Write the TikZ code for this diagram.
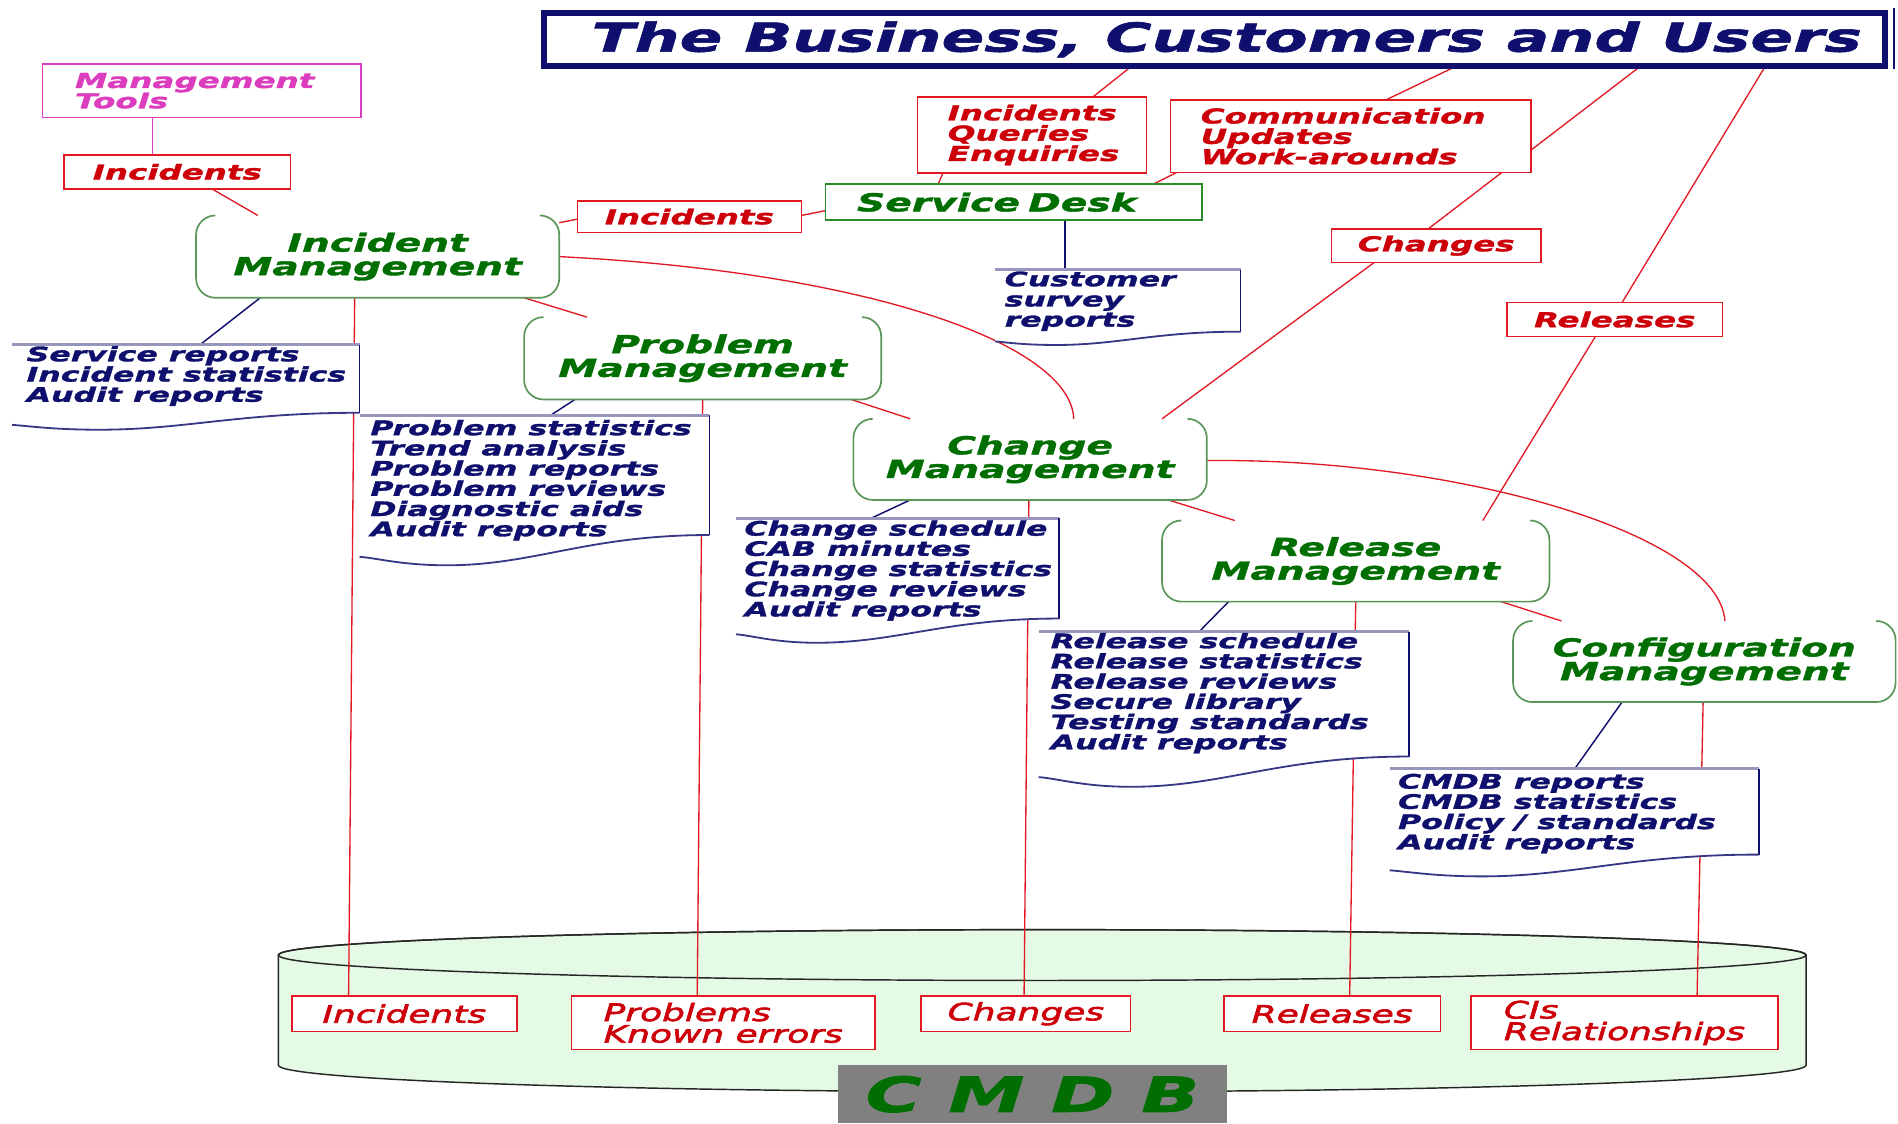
\documentclass[tikz,border=0pt]{standalone}
\usepackage{fontspec}
\newfontfamily\vf{DejaVu Sans}[FakeStretch=1.58, FakeBold=1.5]
\newfontfamily\vfl{DejaVu Sans}[FakeStretch=1.5, FakeBold=2.5]
\pgfdeclarelayer{cyl}
\pgfdeclarelayer{links}
\pgfsetlayers{cyl,links,main}
\definecolor{navy}{RGB}{15,15,110}
\definecolor{lred}{RGB}{225,25,35}
\definecolor{tred}{RGB}{205,0,10}
\definecolor{dgreen}{RGB}{0,110,0}
\definecolor{bgreen}{RGB}{90,150,90}
\definecolor{sdgreen}{RGB}{40,140,40}
\definecolor{mag}{RGB}{220,60,190}
\definecolor{cylfill}{RGB}{228,250,228}
\definecolor{docgray}{RGB}{150,150,190}
\definecolor{dbgray}{RGB}{128,128,128}
\tikzset{
  every node/.style={inner sep=0pt, outer sep=0pt},
  lab/.style={draw=lred, fill=white, line width=1.3pt, text=tred, align=center,
    font=\vf\bfseries\itshape\fontsize{17}{16.8}\selectfont},
  labL/.style={lab, align=left},
  dblab/.style={draw=lred, fill=white, line width=1.3pt, text=tred, align=left,
    font=\vfl\itshape\fontsize{19.8}{17.8}\selectfont},
  proc/.style={text=dgreen, align=center,
    font=\vf\bfseries\itshape\fontsize{20.5}{19.5}\selectfont},
  procline/.style={draw=bgreen, line width=1.4pt, rounded corners=16pt},
  doctext/.style={text=navy, align=left, anchor=base west,
    font=\vf\bfseries\itshape\fontsize{16.5}{16.7}\selectfont},
  docfill/.style={fill=white},
  doctop/.style={draw=docgray, line width=2.5pt},
  docright/.style={draw=navy, line width=1.2pt},
  docwave/.style={draw=navy!70!docgray, line width=1.5pt},
  rline/.style={draw=lred, line width=1.1pt},
  bline/.style={draw=navy, line width=1.2pt},
  mline/.style={draw=mag, line width=1.2pt},
}
% #1 name, #2 x1, #3 ytop, #4 x2, #5 yright, #6 yleft, #7 ylow
\newcommand\docshape[7]{%
  \node[minimum width={#4-#2}, minimum height={#3-#5}, anchor=north west] (#1) at (#2,-#3) {};
  \fill[docfill] (#2,-#3) -- (#4,-#3) -- (#4,-#5)
    .. controls ({#4-0.35*(#4-#2)},-#5) and ({#2+0.5*(#4-#2)},-#7) .. ({#2+0.25*(#4-#2)},-#7)
    .. controls ({#2+0.12*(#4-#2)},-#7) and ({#2+0.05*(#4-#2)},{-#6-1}) .. (#2,-#6) -- cycle;
  \draw[doctop] (#2,-#3) -- (#4,-#3);
  \draw[docright] (#4,-#3) -- (#4,-#5);
  \draw[docwave] (#4,-#5)
    .. controls ({#4-0.35*(#4-#2)},-#5) and ({#2+0.5*(#4-#2)},-#7) .. ({#2+0.25*(#4-#2)},-#7)
    .. controls ({#2+0.12*(#4-#2)},-#7) and ({#2+0.05*(#4-#2)},{-#6-1}) .. (#2,-#6);
}
\newcommand\procshape[1]{%
  \draw[procline] ([xshift=16pt]#1.north west) -- (#1.north west) -- (#1.south west)
    -- (#1.south east) -- (#1.north east) -- ([xshift=-16pt]#1.north east);
}
\begin{document}
\begin{tikzpicture}[x=1pt,y=1pt]
\useasboundingbox (0,0) rectangle (1568,-928);

% ---------- CMDB cylinder ----------
\begin{pgfonlayer}{cyl}
  \filldraw[fill=cylfill, draw=black!85, line width=1.2pt]
    (230,-789) -- (230,-880) arc[start angle=180, end angle=360, x radius=631, y radius=22]
    -- (1492,-789) arc[start angle=0, end angle=180, x radius=631, y radius=21] -- cycle;
  \draw[black!85, line width=1.2pt] (861,-789) ellipse [x radius=631, y radius=21];
\end{pgfonlayer}

% ---------- title ----------
\node[draw=navy, line width=5pt, fill=white, minimum width=1108pt, minimum height=44pt,
  text=navy, font=\vf\bfseries\itshape\fontsize{33}{36}\selectfont]
  (T) at (1003.5,-32.5) {\hspace{20pt}The Business, Customers and Users};
\draw[navy, line width=1.5pt] (1565,-7) -- (1565,-57);

% ---------- top labels ----------
\node[labL, draw=mag, text=mag, minimum width=263pt, minimum height=44pt, text width=209pt, inner xsep=27pt]
  (MT) at (166.5,-75) {Management\\Tools};
\node[lab, minimum width=187pt, minimum height=28pt] (I1) at (146.5,-142) {Incidents};
\node[lab, minimum width=185pt, minimum height=26pt] (I2) at (569.5,-179) {Incidents};
\node[labL, minimum width=189pt, minimum height=63pt, text width=139pt, inner xsep=25pt]
  (IQE) at (852.5,-111.5) {Incidents\\Queries\\Enquiries};
\node[labL, minimum width=298pt, minimum height=60pt, text width=248pt, inner xsep=25pt]
  (COM) at (1116,-112.5) {Communication\\Updates\\Work-arounds};
\node[labL, draw=sdgreen, text=dgreen, line width=1.5pt, minimum width=311pt, minimum height=30pt,
  text width=259pt, inner xsep=26pt,
  font=\vf\bfseries\itshape\fontsize{20.5}{20}\selectfont] (SD) at (837.5,-167) {Service Desk};
\node[lab, minimum width=173pt, minimum height=28pt] (CHG) at (1186.5,-203) {Changes};
\node[lab, minimum width=178pt, minimum height=28pt] (REL) at (1334,-264) {Releases};

% ---------- processes ----------
\node[proc, minimum width=300pt, minimum height=68pt] (IM) at (312,-212) {Incident\\Management};
\procshape{IM}
\node[proc, minimum width=295pt, minimum height=68pt] (PM) at (580.5,-296) {Problem\\Management};
\procshape{PM}
\node[proc, minimum width=292pt, minimum height=67pt] (CM) at (851,-379.5) {Change\\Management};
\procshape{CM}
\node[proc, minimum width=320pt, minimum height=67pt] (RM) at (1120,-463.5) {Release\\Management};
\procshape{RM}
\node[proc, minimum width=316pt, minimum height=67pt] (CFM) at (1408,-546.5) {Configuration\\Management};
\procshape{CFM}

% ---------- documents (text node base = last line's baseline) ----------
\docshape{CS}{822}{223}{1025}{274}{282}{285}
\node[doctext] (CSt) at (830,-269.9) {Customer\\survey\\reports};
\docshape{SR}{10}{285}{297}{341}{351}{355}
\node[doctext] (SRt) at (22,-331.9) {Service reports\\Incident statistics\\Audit reports};
\docshape{PS}{297}{343}{586}{442}{460}{467}
\node[doctext] (PSt) at (306,-443) {Problem statistics\\Trend analysis\\Problem reports\\Problem reviews\\Diagnostic aids\\Audit reports};
\docshape{CH}{608}{428}{875}{511}{524}{531}
\node[doctext] (CHt) at (615,-509.3) {Change schedule\\CAB minutes\\Change statistics\\Change reviews\\Audit reports};
\docshape{RL}{858}{522}{1164}{625}{642}{650}
\node[doctext] (RLt) at (868,-619) {Release schedule\\Release statistics\\Release reviews\\Secure library\\Testing standards\\Audit reports};
\docshape{CD}{1148}{635}{1453}{706}{719}{724}
\node[doctext] (CDt) at (1155,-701.6) {CMDB reports\\CMDB statistics\\Policy / standards\\Audit reports};

% ---------- CMDB contents ----------
\node[dblab, minimum width=186pt, minimum height=29pt, align=center] (DI) at (334,-837.5) {Incidents};
\node[dblab, minimum width=251pt, minimum height=44pt] (DP) at (597.5,-845) {Problems\\Known errors};
\node[dblab, minimum width=173pt, minimum height=29pt, align=center] (DC) at (847.5,-837.5) {Changes};
\node[dblab, minimum width=179pt, minimum height=29pt, align=center] (DR) at (1100.5,-837.5) {Releases};
\node[dblab, minimum width=254pt, minimum height=44pt] (DCI) at (1342,-845) {CIs\\Relationships};
\node[fill=dbgray, minimum width=322pt, minimum height=48pt, text=dgreen,
  font=\vf\bfseries\itshape\fontsize{40}{40}\selectfont] (DB) at (853,-904) {C M D B};

% ---------- connectors ----------
\begin{pgfonlayer}{links}
  \draw[mline] ([xshift=-40.5pt]MT.south) -- ([xshift=-20.5pt]I1.north);
  \draw[rline] ([xshift=28.5pt]I1.south) -- ([xshift=-99pt]IM.north);
  \draw[rline] ([yshift=-6pt]IM.north east) -- ([yshift=-2pt]I2.west);
  \draw[rline] ([yshift=1pt]I2.east) -- ([yshift=-7pt]SD.west);
  \draw[rline] ([xshift=-68.5pt]T.south) -- ([xshift=50.5pt]IQE.north);
  \draw[rline] ([xshift=-73.5pt]IQE.south) -- ([xshift=-62.5pt]SD.north);
  \draw[rline] ([xshift=200pt]T.south) -- ([xshift=29pt]COM.north);
  \draw[rline] ([xshift=-144pt]COM.south) -- ([xshift=115.5pt]SD.north);
  \draw[rline] ([xshift=352pt]T.south) -- ([xshift=-6.5pt]CHG.north);
  \draw[rline] ([xshift=-51.5pt]CHG.south) -- ([xshift=109pt]CM.north);
  \draw[rline] ([xshift=455pt]T.south) -- ([xshift=6pt]REL.north);
  \draw[rline] ([xshift=-16pt]REL.south) -- ([xshift=105pt]RM.north);
  \draw[bline] ([xshift=42.5pt]SD.south) -- ([xshift=-43.5pt]CS.north);
  \draw[bline] ([xshift=-97pt]IM.south) -- ([xshift=11.5pt]SR.north);
  \draw[rline] ([xshift=-19pt]IM.south) -- ([xshift=-46pt]DI.north);
  \draw[rline] ([xshift=121pt]IM.south) -- ([xshift=-95.5pt]PM.north);
  \draw[rline] (IM.east) .. controls (720,-225) and (885,-285) .. ([xshift=36pt]CM.north);
  \draw[bline] ([xshift=-105.5pt]PM.south) -- ([xshift=13.5pt]PS.north);
  \draw[rline] (PM.south) -- ([xshift=-21.5pt]DP.north);
  \draw[rline] ([xshift=122.5pt]PM.south) -- ([xshift=-99pt]CM.north);
  \draw[bline] ([xshift=-99pt]CM.south) -- ([xshift=-21.5pt]CH.north);
  \draw[rline] ([xshift=-1pt]CM.south) -- ([xshift=-1.5pt]DC.north);
  \draw[rline] ([xshift=114pt]CM.south) -- ([xshift=-100pt]RM.north);
  \draw[rline] ([yshift=-1pt]CM.east) .. controls (1200,-378) and (1420,-440) .. ([xshift=17pt]CFM.north);
  \draw[bline] ([xshift=-105pt]RM.south) -- ([xshift=-20.5pt]RL.north);
  \draw[rline] (RM.south) -- ([xshift=14.5pt]DR.north);
  \draw[rline] ([xshift=120pt]RM.south) -- ([xshift=-118pt]CFM.north);
  \draw[bline] ([xshift=-68pt]CFM.south) -- ([xshift=0.5pt]CD.north);
  \draw[rline] ([xshift=-1pt]CFM.south) -- ([xshift=60pt]DCI.north);
\end{pgfonlayer}
\end{tikzpicture}
\end{document}
